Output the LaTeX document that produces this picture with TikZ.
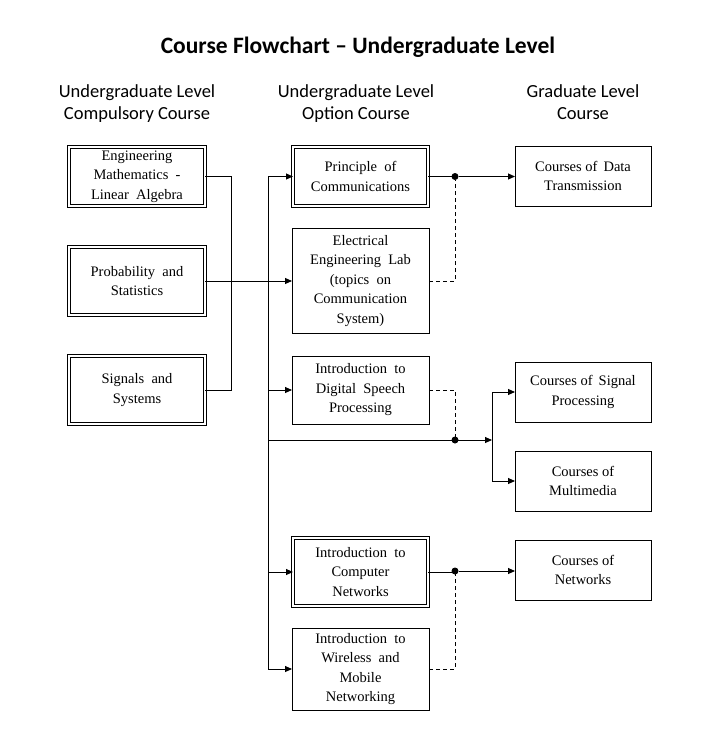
\documentclass[tikz,border=0pt]{standalone}
\usepackage{fontspec}
\setmainfont{Liberation Serif}
\newfontfamily\headfont{Carlito}
\usetikzlibrary{arrows.meta}
\begin{document}
\begin{tikzpicture}[x=1pt,y=-1pt,
  every node/.style={inner sep=0pt,outer sep=0pt},
  box/.style={draw,line width=0.9pt,minimum width=137pt,align=center,
     font=\fontsize{14.5}{19.5}\selectfont},
  dbox/.style={box,double,double distance=1.8pt,line width=0.9pt},
  head/.style={align=center,font=\headfont\fontsize{18.5}{22}\selectfont},
  ln/.style={line width=0.9pt},
  arr/.style={ln,-{Triangle[length=7pt,width=6pt]}},
  dsh/.style={line width=0.9pt,dash pattern=on 4pt off 3pt},
  dot/.style={circle,fill,minimum size=7pt}]
\useasboundingbox (0,0) rectangle (720,744);
% title and headings
\node[font=\headfont\bfseries\fontsize{23.5}{26}\selectfont] (title) at (358,47) {Course Flowchart – Undergraduate Level};
\node[head] (h1) at (137,104) {Undergraduate Level\\Compulsory Course};
\node[head] (h2) at (356,104) {Undergraduate Level\\Option Course};
\node[head] (h3) at (583,102) {Graduate Level\\Course};
% left column
\node[dbox,minimum width=136pt,minimum height=59pt] (b1) at (137,176.5) {Engineering\\Mathematics \ -\\Linear \ Algebra};
\node[dbox,minimum width=136pt,minimum height=68pt] (b2) at (137,281) {Probability \ and\\Statistics};
\node[dbox,minimum width=136pt,minimum height=68pt] (b3) at (137,390) {Signals \ and\\Systems};
% middle column
\node[dbox,minimum width=135pt,minimum height=59pt] (pc) at (360.5,176.5) {Principle \ of\\Communications};
\node[box,minimum height=105pt] (ee) at (360.5,281) {Electrical\\Engineering \ Lab\\(topics \ on\\Communication\\System)};
\node[box,minimum height=68pt] (ds) at (360.5,390) {Introduction \ to\\Digital \ Speech\\Processing};
\node[dbox,minimum width=135pt,minimum height=68pt] (cn) at (360.5,572) {Introduction \ to\\Computer\\Networks};
\node[box,minimum height=82pt] (wm) at (360.5,669) {Introduction \ to\\Wireless \ and\\Mobile\\Networking};
% right column
\node[box,minimum width=136pt,minimum height=60pt] (dt) at (583,176) {Courses of \,Data\\Transmission};
\node[box,minimum width=136pt,minimum height=60pt] (sp) at (583,392) {Courses of \,Signal\\Processing};
\node[box,minimum width=136pt,minimum height=60pt] (mm) at (583,481) {Courses of\\Multimedia};
\node[box,minimum width=136pt,minimum height=60pt] (nw) at (583,570) {Courses of\\Networks};
% coordinates
\coordinate (lj) at (231,176.5);
\coordinate (bt) at (268,176.5);
\coordinate (bb) at (268,669);
\coordinate (hb) at (268,440);
\coordinate (sj) at (492,440);
\node[dot] (d1) at (455,176.5) {};
\node[dot] (d2) at (455,440) {};
\node[dot] (d3) at (455,571) {};
% left connectors
\draw[ln] (b1.east) -- (lj) |- (b3.east);
\draw[arr] (b2.east) -- (ee.west);
% bus
\draw[ln] (bt) -- (bb);
\draw[arr] (bt) -- (pc.west);
\draw[arr] (bt |- ds.west) -- (ds.west);
\draw[arr] (bt |- cn.west) -- (cn.west);
\draw[arr] (bb) -- (wm.west);
\draw[arr] (hb) -- (sj);
% right connectors
\draw[ln] (pc.east) -- (d1);
\draw[arr] (d1) -- (dt.west |- d1);
\draw[dsh] (ee.east) -| (d1);
\draw[dsh] (ds.east) -| (d2);
\draw[ln] (sj |- sp.west) -- (sj |- mm.west);
\draw[arr] (sj |- sp.west) -- (sp.west);
\draw[arr] (sj |- mm.west) -- (mm.west);
\draw[ln] (cn.east) -- (cn.east -| d3) -- (d3);
\draw[arr] (d3) -- (nw.west |- d3);
\draw[dsh] (wm.east) -| (d3);
\end{tikzpicture}
\end{document}
